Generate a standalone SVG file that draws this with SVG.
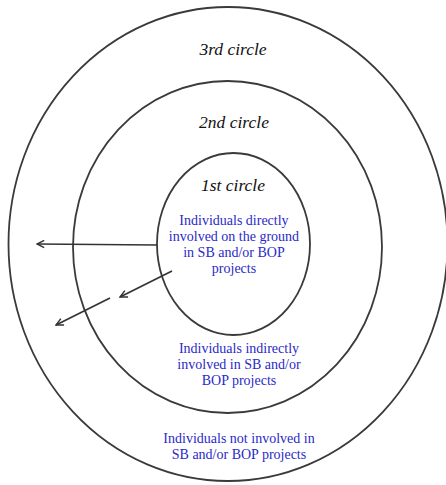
<svg xmlns="http://www.w3.org/2000/svg" width="446" height="485" viewBox="0 0 446 485">
<style>
.ring{fill:none;stroke:#3a3a3a;stroke-width:1.8}
.lbl{font-family:"Liberation Serif","Times New Roman",serif;font-style:italic;font-size:17.5px;fill:#111;text-anchor:middle}
.desc{font-family:"Liberation Serif","Times New Roman",serif;font-size:14px;fill:#2a2ac8;text-anchor:middle}
.conn{fill:none;stroke:#333;stroke-width:1.6}
</style>
<defs>
<marker id="ah" viewBox="0 0 10 10" refX="9" refY="5" markerWidth="9" markerHeight="9" markerUnits="userSpaceOnUse" orient="auto">
<path d="M1,1 L9,5 L1,9" fill="none" stroke="#333" stroke-width="1.6"/>
</marker>
</defs>
<rect width="446" height="485" fill="#fff"/>
<g id="circle3">
<ellipse class="ring" cx="228" cy="244" rx="219.5" ry="237"/>
<text class="lbl" x="233" y="55">3rd circle</text>
<text class="desc" x="239" y="443">Individuals not involved in</text>
<text class="desc" x="239" y="459">SB and/or BOP projects</text>
</g>
<g id="circle2">
<ellipse class="ring" cx="227.5" cy="247" rx="154.5" ry="166"/>
<text class="lbl" x="234" y="128">2nd circle</text>
<text class="desc" x="239" y="353">Individuals indirectly</text>
<text class="desc" x="239" y="369">involved in SB and/or</text>
<text class="desc" x="239" y="385">BOP projects</text>
</g>
<g id="circle1">
<ellipse class="ring" cx="233.5" cy="244" rx="76.5" ry="91"/>
<text class="lbl" x="233" y="191">1st circle</text>
<text class="desc" x="234" y="225">Individuals directly</text>
<text class="desc" x="234" y="241">involved on the ground</text>
<text class="desc" x="234" y="257">in SB and/or BOP</text>
<text class="desc" x="234" y="273">projects</text>
</g>
<g id="connectors">
<line class="conn" x1="157" y1="245" x2="37" y2="244" marker-end="url(#ah)"/>
<line class="conn" x1="172" y1="271" x2="120" y2="297" marker-end="url(#ah)"/>
<line class="conn" x1="110" y1="298" x2="56" y2="325" marker-end="url(#ah)"/>
</g>
</svg>
